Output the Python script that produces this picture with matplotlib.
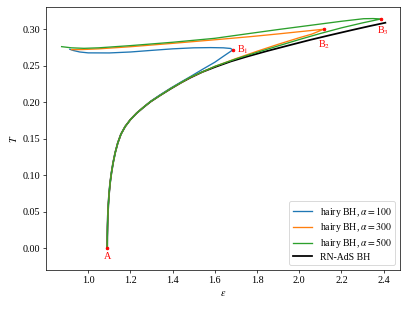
import matplotlib
matplotlib.use('Agg')
import matplotlib.pyplot as plt

plt.rcParams['font.family'] = ['Liberation Serif', 'DejaVu Serif']
plt.rcParams['mathtext.fontset'] = 'stix'
plt.rcParams['font.size'] = 11.5

# RN-AdS black hole
eps_rn = [1.090, 1.0905, 1.0915, 1.093, 1.0955, 1.099, 1.104, 1.110, 1.118,
          1.128, 1.140, 1.155, 1.175, 1.200, 1.230, 1.265, 1.296, 1.34,
          1.39, 1.44, 1.485, 1.54, 1.60, 1.675, 1.75, 1.85, 1.95, 2.054,
          2.15, 2.25, 2.33, 2.408]
T_rn = [0.000, 0.015, 0.030, 0.045, 0.060, 0.075, 0.090, 0.103, 0.117,
        0.131, 0.144, 0.156, 0.1665, 0.176, 0.185, 0.1935, 0.2006, 0.209,
        0.218, 0.2265, 0.2335, 0.241, 0.2478, 0.2555, 0.262, 0.270, 0.2775,
        0.2852, 0.2918, 0.2985, 0.3037, 0.3085]

# shared lower part of the hairy branches (on top of RN-AdS)
eps_low = [1.090, 1.0905, 1.0915, 1.093, 1.0955, 1.099, 1.104, 1.110, 1.118,
           1.128, 1.140, 1.155, 1.175, 1.200, 1.230, 1.265]
T_low = [0.000, 0.015, 0.030, 0.045, 0.060, 0.075, 0.090, 0.103, 0.117,
         0.131, 0.144, 0.156, 0.1665, 0.176, 0.185, 0.1937]

# hairy BH, alpha = 100
eps_100 = eps_low + [1.296, 1.34, 1.39, 1.44, 1.485, 1.54, 1.60, 1.64, 1.685,
                     1.675, 1.64, 1.58, 1.50, 1.40, 1.30, 1.20, 1.10, 1.00,
                     0.96, 0.93, 0.913]
T_100 = T_low + [0.2012, 0.2098, 0.219, 0.2275, 0.235, 0.2445, 0.2545,
                 0.2625, 0.2713,
                 0.2733, 0.2742, 0.2745, 0.2742, 0.2728, 0.2707, 0.2685,
                 0.2672, 0.2673, 0.2685, 0.2705, 0.2722]

# hairy BH, alpha = 300
eps_300 = eps_low + [1.296, 1.39, 1.485, 1.60, 1.70, 1.80, 1.90, 2.00, 2.06,
                     2.116,
                     2.0, 1.9, 1.769, 1.6, 1.4, 1.2, 1.05, 0.97, 0.921]
T_300 = T_low + [0.2008, 0.2183, 0.234, 0.2488, 0.2595, 0.2695, 0.279,
                 0.288, 0.293, 0.2996,
                 0.2962, 0.2932, 0.2895, 0.2852, 0.2803, 0.2757, 0.2728,
                 0.2718, 0.2717]

# hairy BH, alpha = 500
eps_500 = eps_low + [1.296, 1.39, 1.485, 1.60, 1.70, 1.80, 1.90, 2.00, 2.10,
                     2.20, 2.30, 2.388,
                     2.35, 2.305, 2.2, 2.054, 1.9, 1.769, 1.6, 1.4, 1.2,
                     1.05, 0.98, 0.92, 0.874]
T_500 = T_low + [0.2008, 0.2183, 0.2343, 0.2488, 0.259, 0.268, 0.2768,
                 0.2855, 0.2938, 0.3015, 0.3083, 0.3137,
                 0.3142, 0.3140, 0.3105, 0.305, 0.2992, 0.294, 0.2872,
                 0.2818, 0.2772, 0.2742, 0.2735, 0.2742, 0.2758]

# special points
pt_names = ['A', 'B$_1$', 'B$_2$', 'B$_3$']
pt_eps = [1.091, 1.685, 2.116, 2.388]
pt_T = [0.0, 0.2713, 0.2996, 0.3137]

fig = plt.figure(figsize=(6.4, 4.86), dpi=63.6)
ax = fig.add_axes([0.113, 0.126, 0.870, 0.851])

ax.plot(eps_100, T_100, lw=1.5, label=r'hairy BH, $\alpha=100$', zorder=3)
ax.plot(eps_300, T_300, lw=1.5, label=r'hairy BH, $\alpha=300$', zorder=3)
ax.plot(eps_500, T_500, lw=1.5, label=r'hairy BH, $\alpha=500$', zorder=3)
ax.plot(eps_rn, T_rn, c='k', lw=2, label='RN-AdS BH', zorder=2)

ax.plot(pt_eps, pt_T, 'r.', ms=6, zorder=5)
ax.text(pt_eps[0], pt_T[0] - 0.005, pt_names[0], color='r',
        ha='center', va='top')
ax.text(pt_eps[1] + 0.018, pt_T[1], pt_names[1], color='r',
        ha='left', va='center')
ax.text(pt_eps[2], pt_T[2] - 0.013, pt_names[2], color='r',
        ha='center', va='top')
ax.text(pt_eps[3] + 0.01, pt_T[3] - 0.007, pt_names[3], color='r',
        ha='center', va='top')

ax.set_xlim(0.80, 2.478)
ax.set_ylim(-0.0297, 0.330)
ax.set_xticks([1.0, 1.2, 1.4, 1.6, 1.8, 2.0, 2.2, 2.4])
ax.set_xlabel(r'$\varepsilon$')
ax.set_ylabel(r'$T$')
ax.legend(loc='lower right', fontsize=11, labelspacing=0.25,
          borderpad=0.35)

fig.savefig('out.png', dpi=63.6)
